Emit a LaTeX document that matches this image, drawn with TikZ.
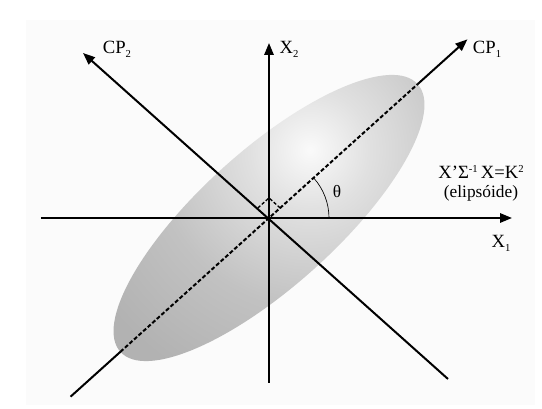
\documentclass[tikz,border=0pt]{standalone}
\usepackage{fontspec}
\setmainfont{Liberation Serif}
\usetikzlibrary{arrows.meta}

% small low index, as on the figure
\newcommand{\lowidx}[1]{\raisebox{-0.45ex}{\fontsize{8}{8}\selectfont #1}}
\newcommand{\highidx}[1]{\raisebox{0.75ex}{\fontsize{8}{8}\selectfont #1}}

% soft highlight for the ellipsoid
\pgfdeclareradialshading{elshade}{\pgfpoint{0bp}{0bp}}{%
  color(0bp)=(black!2); color(5bp)=(black!12); color(13bp)=(black!24);
  color(21bp)=(black!30); color(46bp)=(black!35); color(50bp)=(black!35)}

\begin{document}
\begin{tikzpicture}[
  x=0.75pt, y=0.75pt,
  axis/.style={line width=1.5pt, -{Triangle[length=9pt, width=7pt]}},
  bare/.style={line width=1.5pt},
  pcdash/.style={line width=1.5pt, dash pattern=on 3pt off 1.6pt},
  lbl/.style={font=\fontsize{14}{16}\selectfont, inner sep=1pt},
  note/.style={font=\fontsize{13}{15}\selectfont, inner sep=1pt},
]
  % page and faint backdrop
  \useasboundingbox (-269,-191) rectangle (273,218);
  \fill[black!1.5] (-243,-187) rectangle (266,198);

  % origin and axis ends
  \coordinate (o) at (0,0);
  \coordinate (hl) at (41,68);
  \coordinate (xl) at (-228,0);
  \coordinate (xr) at (243,0);
  \coordinate (yb) at (0,-165);
  \coordinate (yt) at (0,175);
  \coordinate (cps) at (222:267);
  \coordinate (cpe) at (42:267);
  \coordinate (ea) at (222:200);
  \coordinate (eb) at (42:200);
  \coordinate (qs) at (-186,165);
  \coordinate (qe) at (179,-161);

  % ellipsoid
  \begin{scope}
    \clip[rotate=42] (o) ellipse [x radius=200, y radius=68];
    \shade[shading=elshade] (hl) circle [radius=300];
  \end{scope}

  % original axes
  \draw[axis] (xl) -- (xr);
  \draw[axis] (yb) -- (yt);

  % principal components
  \draw[bare] (cps) -- (ea);
  \draw[pcdash] (ea) -- (eb);
  \draw[axis] (eb) -- (cpe);
  \draw[axis] (qe) -- (qs);

  % right angle and theta
  \draw[line width=1pt, dash pattern=on 2.5pt off 1.5pt]
    (42:15) -- ++(138:15) -- ++(222:15);
  \draw[line width=0.5pt] (o) ++(60,0) arc[start angle=0, end angle=42, radius=60];

  % labels
  \node[lbl] (cptwo) at (-152,169) {CP\lowidx{2}};
  \node[lbl] (xtwo) at (20,169) {X\lowidx{2}};
  \node[lbl] (cpone) at (218,169) {CP\lowidx{1}};
  \node[lbl] (xone) at (232,-25) {X\lowidx{1}};
  \node[lbl] (eqn) at (212,46) {X’Σ\highidx{-1}\,X=K\highidx{2}};
  \node[note] (elip) at (212,25) {(elipsóide)};
  \node[note] (theta) at (68,26) {θ};
\end{tikzpicture}
\end{document}
